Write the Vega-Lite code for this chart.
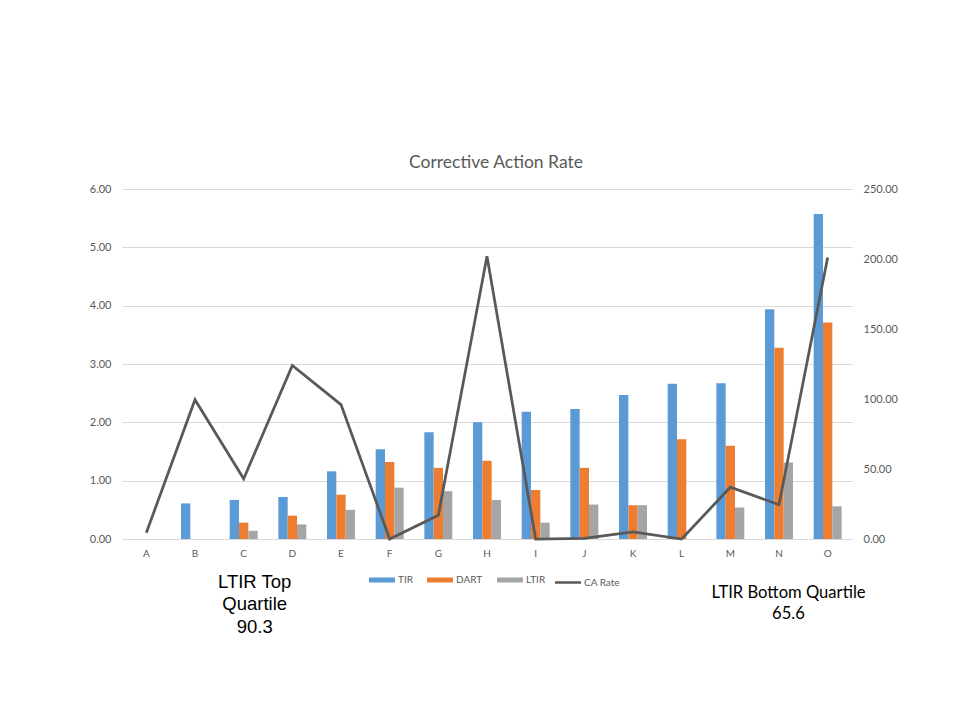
{
  "$schema": "https://vega.github.io/schema/vega-lite/v6.json",
  "autosize": {"type": "none"},
  "width": 730,
  "height": 350,
  "padding": {"left": 122, "top": 189, "right": 101, "bottom": 185},
  "background": "white",
  "config": {
    "view": {"stroke": null},
    "font": "Lato",
    "axis": {"labelFont": "Lato", "labelColor": "#595959", "labelFontSize": 11, "ticks": false, "domain": false, "title": null},
    "legend": {"labelFont": "Lato", "labelColor": "#595959", "labelFontSize": 10}
  },
  "title": {"text": "Corrective Action Rate", "font": "Lato", "fontSize": 17.5, "fontWeight": "normal", "color": "#595959", "offset": 12, "dx": 9},
  "datasets": {
    "bars": [
      {"cat": "A", "metric": "TIR", "value": 0}, {"cat": "A", "metric": "DART", "value": 0}, {"cat": "A", "metric": "LTIR", "value": 0},
      {"cat": "B", "metric": "TIR", "value": 0.61}, {"cat": "B", "metric": "DART", "value": 0}, {"cat": "B", "metric": "LTIR", "value": 0},
      {"cat": "C", "metric": "TIR", "value": 0.67}, {"cat": "C", "metric": "DART", "value": 0.28}, {"cat": "C", "metric": "LTIR", "value": 0.14},
      {"cat": "D", "metric": "TIR", "value": 0.72}, {"cat": "D", "metric": "DART", "value": 0.40}, {"cat": "D", "metric": "LTIR", "value": 0.25},
      {"cat": "E", "metric": "TIR", "value": 1.16}, {"cat": "E", "metric": "DART", "value": 0.76}, {"cat": "E", "metric": "LTIR", "value": 0.50},
      {"cat": "F", "metric": "TIR", "value": 1.54}, {"cat": "F", "metric": "DART", "value": 1.32}, {"cat": "F", "metric": "LTIR", "value": 0.88},
      {"cat": "G", "metric": "TIR", "value": 1.83}, {"cat": "G", "metric": "DART", "value": 1.22}, {"cat": "G", "metric": "LTIR", "value": 0.82},
      {"cat": "H", "metric": "TIR", "value": 2.00}, {"cat": "H", "metric": "DART", "value": 1.34}, {"cat": "H", "metric": "LTIR", "value": 0.67},
      {"cat": "I", "metric": "TIR", "value": 2.18}, {"cat": "I", "metric": "DART", "value": 0.84}, {"cat": "I", "metric": "LTIR", "value": 0.28},
      {"cat": "J", "metric": "TIR", "value": 2.23}, {"cat": "J", "metric": "DART", "value": 1.22}, {"cat": "J", "metric": "LTIR", "value": 0.59},
      {"cat": "K", "metric": "TIR", "value": 2.47}, {"cat": "K", "metric": "DART", "value": 0.58}, {"cat": "K", "metric": "LTIR", "value": 0.58},
      {"cat": "L", "metric": "TIR", "value": 2.66}, {"cat": "L", "metric": "DART", "value": 1.71}, {"cat": "L", "metric": "LTIR", "value": 0},
      {"cat": "M", "metric": "TIR", "value": 2.67}, {"cat": "M", "metric": "DART", "value": 1.60}, {"cat": "M", "metric": "LTIR", "value": 0.54},
      {"cat": "N", "metric": "TIR", "value": 3.94}, {"cat": "N", "metric": "DART", "value": 3.28}, {"cat": "N", "metric": "LTIR", "value": 1.31},
      {"cat": "O", "metric": "TIR", "value": 5.57}, {"cat": "O", "metric": "DART", "value": 3.71}, {"cat": "O", "metric": "LTIR", "value": 0.56}
    ],
    "ca": [
      {"cat": "A", "rate": 4.5}, {"cat": "B", "rate": 99.5}, {"cat": "C", "rate": 43}, {"cat": "D", "rate": 124},
      {"cat": "E", "rate": 96}, {"cat": "F", "rate": 0}, {"cat": "G", "rate": 17}, {"cat": "H", "rate": 202},
      {"cat": "I", "rate": 0}, {"cat": "J", "rate": 0.5}, {"cat": "K", "rate": 5}, {"cat": "L", "rate": 0},
      {"cat": "M", "rate": 37}, {"cat": "N", "rate": 24.5}, {"cat": "O", "rate": 201}
    ],
    "notes": [
      {"cat": "C", "note": "top", "label": ["LTIR Top", "Quartile", "90.3"]},
      {"cat": "N", "note": "bottom", "label": ["LTIR Bottom Quartile", "65.6"]}
    ]
  },
  "encoding": {
    "x": {
      "field": "cat", "type": "nominal",
      "scale": {"domain": ["A","B","C","D","E","F","G","H","I","J","K","L","M","N","O"], "paddingInner": 0.425, "paddingOuter": 0.2125},
      "axis": {"labelAngle": 0, "domain": true, "domainColor": "#d9d9d9", "domainWidth": 1, "labelPadding": 9, "labelFontSize": 10, "title": null}
    }
  },
  "layer": [
    {
      "layer": [
        {
          "data": {"name": "bars"},
          "mark": {"type": "bar"},
          "encoding": {
            "xOffset": {"field": "metric", "type": "nominal", "scale": {"domain": ["TIR", "DART", "LTIR"], "paddingInner": 0, "paddingOuter": 0}},
            "y": {
              "field": "value", "type": "quantitative",
              "scale": {"domain": [0, 6], "nice": false},
              "axis": {"values": [0,1,2,3,4,5,6], "format": ".2f", "grid": true, "gridColor": "#d9d9d9", "gridWidth": 1, "labelPadding": 11, "title": null}
            },
            "color": {
              "field": "metric", "type": "nominal",
              "scale": {"domain": ["TIR", "DART", "LTIR", "CA Rate"], "range": ["#5b9bd5", "#ed7d31", "#a5a5a5", "#595959"]},
              "legend": {
                "title": null, "orient": "none", "direction": "horizontal", "legendX": 255, "legendY": 386,
                "symbolType": "stroke", "symbolSize": 676, "symbolStrokeWidth": 5, "labelOffset": 11, "columnPadding": 4,
                "encode": {
                  "symbols": {"update": {
                    "stroke": {"signal": "scale('color', datum.value)"},
                    "strokeWidth": {"signal": "datum.value === 'CA Rate' ? 2.5 : 5"}
                  }}
                }
              }
            }
          }
        },
        {
          "data": {"name": "notes"},
          "transform": [{"filter": "datum.note === 'top'"}],
          "mark": {"type": "text", "font": "Liberation Sans", "fontSize": 18.5, "color": "#000000", "baseline": "middle", "align": "center", "lineHeight": 22.5, "dx": 11},
          "encoding": {
            "y": {"datum": -0.737, "type": "quantitative", "scale": {"domain": [0, 6], "nice": false}},
            "text": {"field": "label"}
          }
        },
        {
          "data": {"name": "notes"},
          "transform": [{"filter": "datum.note === 'bottom'"}],
          "mark": {"type": "text", "font": "Lato", "fontSize": 16.6, "color": "#000000", "baseline": "middle", "align": "center", "lineHeight": 21, "dx": 9.5},
          "encoding": {
            "y": {"datum": -0.926, "type": "quantitative", "scale": {"domain": [0, 6], "nice": false}},
            "text": {"field": "label"}
          }
        }
      ]
    },
    {
      "data": {"name": "ca"},
      "mark": {"type": "line", "strokeWidth": 2.75},
      "encoding": {
        "y": {
          "field": "rate", "type": "quantitative",
          "scale": {"domain": [0, 250], "nice": false},
          "axis": {"orient": "right", "values": [0,50,100,150,200,250], "format": ".2f", "grid": false, "labelPadding": 11, "title": null}
        },
        "color": {"datum": "CA Rate"}
      }
    }
  ],
  "resolve": {"scale": {"y": "independent"}}
}
